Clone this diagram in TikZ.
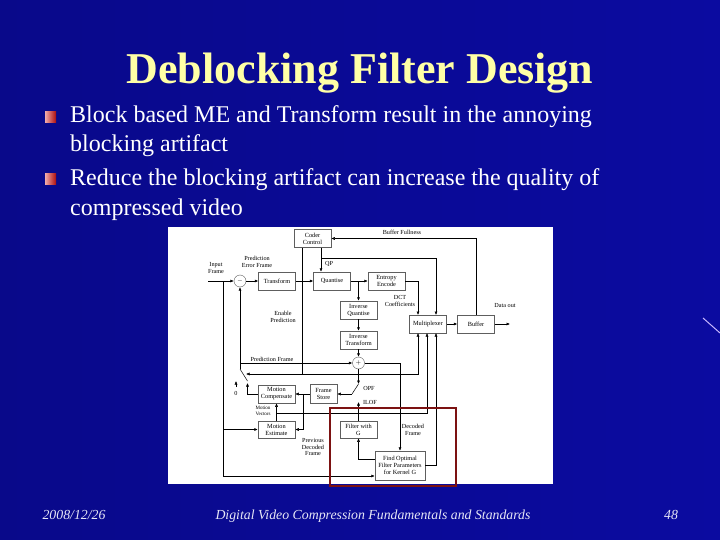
\documentclass[tikz,border=0pt]{standalone}
\usepackage{fontspec}
\setmainfont{Liberation Serif}
\usetikzlibrary{arrows.meta,calc}
\definecolor{cSlide}{HTML}{0B0BA0}
\definecolor{cSlideDk}{HTML}{09098A}
\definecolor{cTitle}{HTML}{FFFFA6}
\definecolor{cFoot}{HTML}{E6E6F6}
\definecolor{cFrame}{HTML}{7C1212}
\definecolor{cEdge}{HTML}{5E5E5E}
\definecolor{cBullet}{HTML}{D81010}
\definecolor{cStreak}{HTML}{C8B8FF}
\tikzset{
  blk/.style={draw=cEdge,fill=white,align=center,font=\fontsize{6.3}{7}\selectfont,inner sep=0pt,line width=0.5pt,minimum width=37pt,minimum height=18pt},
  sumc/.style={circle,draw=cEdge,fill=white,minimum size=12pt,inner sep=0pt,font=\fontsize{6}{6}\selectfont},
  lbl/.style={align=center,font=\fontsize{6.2}{6.8}\selectfont,inner sep=0pt},
  wire/.style={line width=0.5pt},
  arr/.style={-{Latex[length=3.5pt,width=3pt]},line width=0.5pt},
  bul/.style={minimum size=11pt,inner sep=0pt,left color=cBullet!35!white,right color=cBullet!80!black},
  body/.style={anchor=base west,text=white,font=\fontsize{24}{29}\selectfont,inner sep=0pt},
  foot/.style={anchor=base,text=cFoot,font=\fontsize{13.8}{16}\itshape,inner sep=0pt}}

\begin{document}
\begin{tikzpicture}[x=1pt,y=-1pt]
\useasboundingbox (0,0) rectangle (720,540);
\shade[left color=cSlideDk,right color=cSlide] (0,0) rectangle (720,540);
\draw[cStreak,line width=1pt] (703,318) -- (720,333);

\node[anchor=base,text=cTitle,font=\fontsize{44}{48}\bfseries\selectfont,inner sep=0pt] (title) at (360,84) {Deblocking Filter Design};
\node[bul] (b1) at (50.5,117.5) {};
\node[bul] (b2) at (50.5,179.5) {};
\node[body] (t1) at (70,123) {Block based ME and Transform result in the annoying};
\node[body] (t2) at (70,152) {blocking artifact};
\node[body] (t3) at (70,186) {Reduce the blocking artifact can increase the quality of};
\node[body] (t4) at (70,215) {compressed video};

\fill[white] (168,227) rectangle (553,484);

% blocks
\node[blk] (cc) at (312.5,238.5) {Coder\\Control};
\node[blk] (tf) at (277,281) {Transform};
\node[blk] (qt) at (332,281) {Quantise};
\node[blk] (ee) at (386.5,281) {Entropy\\Encode};
\node[blk] (iq) at (358.5,310) {Inverse\\Quantise};
\node[blk] (it) at (358.5,340) {Inverse\\Transform};
\node[blk] (mux) at (428,324) {Multiplexer};
\node[blk] (buf) at (476,324) {Buffer};
\node[blk,minimum width=27pt,minimum height=19pt] (fs) at (323.5,394) {Frame\\Store};
\node[blk] (mc) at (276.5,394) {Motion\\Compensate};
\node[blk,minimum height=17pt] (me) at (276.5,429.5) {Motion\\Estimate};
\node[blk,minimum height=17pt] (fg) at (358.5,429.5) {Filter with\\G};
\node[blk,minimum width=50pt,minimum height=29pt] (fo) at (400,465.5) {Find Optimal\\Filter Parameters\\for Kernel G};
\node[sumc] (sub) at (240,281) {$-$};
\node[sumc] (add) at (358.5,363) {$+$};

% bend points
\coordinate (in) at (208,281);
\coordinate (inb) at (223,281);
\coordinate (inlow) at (223,476);
\coordinate (qb) at (358.5,281);
\coordinate (qpx) at (321,258);
\coordinate (mt1) at (418,315);
\coordinate (mt3) at (436,315);
\coordinate (mb1) at (418,333);
\coordinate (mb2) at (427,333);
\coordinate (mb3) at (436,333);
\coordinate (dout) at (510,324);
\coordinate (ep) at (302,374);
\coordinate (swc) at (246,374);
\coordinate (swt) at (240,369);
\coordinate (swb) at (247.5,381);
\coordinate (mcs) at (247.5,383);
\coordinate (zb) at (236,387);
\coordinate (zt) at (236,381);
\coordinate (opf) at (358.5,384);
\coordinate (swf) at (352,394);
\coordinate (ilof) at (358.5,402);
\coordinate (pdf) at (303,394);
\coordinate (mv) at (276.5,413);
\coordinate (fgl) at (358.5,459);

% forward path
\draw[arr] (in) -- (sub);
\draw[arr] (sub) -- (tf);
\draw[arr] (tf) -- (qt);
\draw[arr] (qt) -- (ee);
\draw[arr] (ee.east) -| (mt1);
\draw[arr] (mux) -- (buf);
\draw[arr] (buf) -- (dout);
\draw[arr] (buf.north) |- (cc.east);
\draw[arr] (cc.south -| qpx) -- (qt.north -| qpx);
\draw[arr] (qpx) -| (mt3);

% reconstruction loop
\draw[arr] (qb) -- (iq);
\draw[arr] (iq) -- (it);
\draw[arr] (it) -- (add);
\draw[arr] (add) -- (opf);
\draw[wire] (opf) -- (swf);
\draw[arr] (swf) -- (fs.east);
\draw[arr] (fg) -- (ilof);
\draw[arr] (fs) -- (mc);
\draw[arr] (pdf) |- (me.east);
\draw[arr] (me) -- (mc);
\draw[arr] (mv) -| (mb2);
\draw[arr] (mc.west) -| (mcs);
\draw[wire] (swt) -- (swb);
\draw[arr] (zb) -- (zt);
\draw[arr] (swt) -- (sub.south);
\draw[arr] (swt |- add) -- (add);
\draw[wire] (cc.south -| ep) -- (ep);
\draw[arr] (ep) -- (swc);
\draw[arr] (ep) -| (mb1);

% input frame and filter design
\draw[wire] (inb) -- (inlow);
\draw[arr] (inlow) -- (inlow -| fo.west);
\draw[arr] (inb |- me.west) -- (me.west);
\draw[arr] (add.east) -| (fo.north);
\draw[arr] (fo.west |- fgl) -| (fg.south);
\draw[arr] (fo.east) -| (mb3);

% labels
\node[lbl] (lin) at (216,268) {Input\\Frame};
\node[lbl] (lpe) at (257,262) {Prediction\\Error Frame};
\node[lbl] (lqp) at (329,264) {QP};
\node[lbl] (lbf) at (402,232) {Buffer Fullness};
\node[lbl] (ldct) at (400,301) {DCT\\Coefficients};
\node[lbl] (lout) at (505,305) {Data out};
\node[lbl] (len) at (283,317) {Enable\\Prediction};
\node[lbl] (lpf) at (272,359) {Prediction Frame};
\node[lbl] (lzero) at (236,393) {0};
\node[lbl] (lopf) at (369,388) {OPF};
\node[lbl] (lilof) at (370,402) {ILOF};
\node[lbl,font=\fontsize{5}{5.6}\selectfont] (lmv) at (263,411) {Motion\\Vectors};
\node[lbl] (lpd) at (313,447) {Previous\\Decoded\\Frame};
\node[lbl] (ldf) at (413,430) {Decoded\\Frame};

\draw[cFrame,line width=1.6pt] (330,408) rectangle (456,486);

\node[foot] (fdate) at (74,519) {2008/12/26};
\node[foot] (fname) at (373,519) {Digital Video Compression Fundamentals and Standards};
\node[foot] (fpage) at (671,519) {48};
\end{tikzpicture}
\end{document}
